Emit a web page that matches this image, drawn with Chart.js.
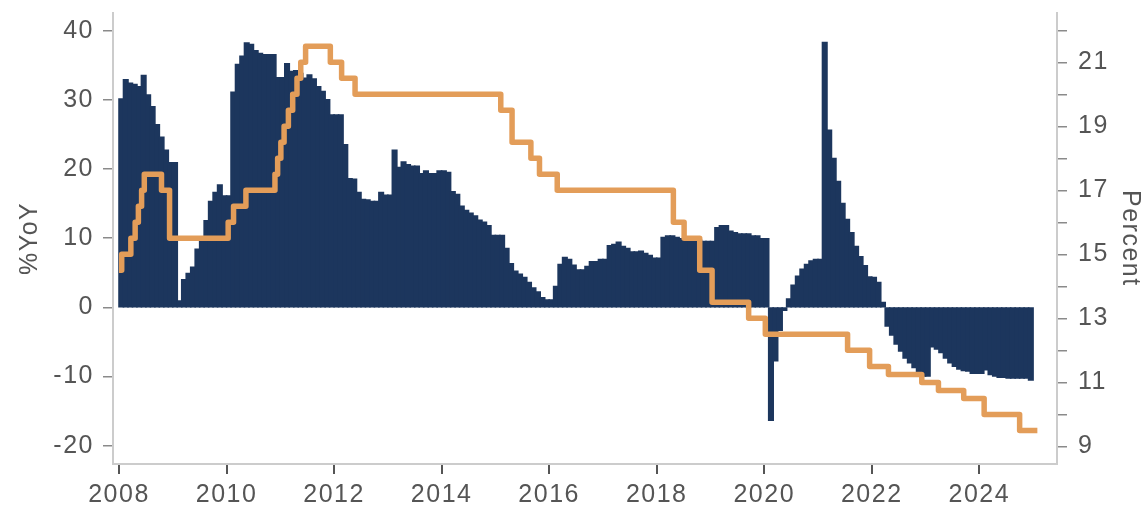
<!DOCTYPE html>
<html>
<head>
<meta charset="utf-8">
<script src="https://cdn.jsdelivr.net/npm/chart.js@4.4.1/dist/chart.umd.min.js"></script>
<style>
  html, body { margin: 0; padding: 0; background: #ffffff; }
  #wrap { width: 1142px; height: 509px; }
</style>
</head>
<body>
<div id="wrap"><canvas id="grafico"></canvas></div>
<script>
// Crecimiento interanual mensual (%YoY), desde enero 2008 hasta diciembre 2024
const primerAnio = 2008;
const crecimientoYoY = [
  30.1, 32.9, 32.4, 32.2, 31.9, 33.5, 30.7, 29.0, 26.4, 24.6, 22.7, 20.9,   // 2008
  20.9, 0.9, 4.0, 4.9, 5.8, 8.4, 9.6, 12.5, 15.3, 16.6, 17.7, 16.1,         // 2009
  16.1, 31.1, 35.1, 36.3, 38.2, 38.0, 37.1, 36.7, 36.5, 36.5, 36.5, 33.2,   // 2010
  33.2, 35.2, 34.1, 34.2, 33.8, 33.1, 33.6, 33.0, 31.9, 31.2, 30.0, 27.8,   // 2011
  27.8, 27.8, 23.5, 18.6, 18.5, 16.6, 15.6, 15.5, 15.3, 15.3, 16.6, 16.2,   // 2012
  16.2, 22.7, 20.2, 21.0, 20.6, 20.4, 20.4, 19.3, 19.7, 19.3, 19.3, 19.7,   // 2013
  19.7, 19.5, 16.7, 16.3, 14.6, 14.0, 13.6, 13.2, 12.6, 12.3, 11.8, 10.4,   // 2014
  10.4, 10.4, 8.5, 6.3, 5.2, 4.8, 4.3, 3.6, 2.8, 2.2, 1.4, 1.05,            // 2015
  1.05, 3.0, 6.2, 7.2, 6.9, 6.1, 5.4, 5.4, 5.9, 6.6, 6.6, 6.9,              // 2016
  6.9, 8.9, 9.1, 9.4, 8.8, 8.5, 8.0, 8.0, 8.1, 7.8, 7.5, 7.1,               // 2017
  7.1, 10.1, 10.3, 10.3, 10.1, 9.9, 9.7, 9.7, 9.7, 9.7, 9.5, 9.5,           // 2018
  9.5, 11.5, 11.8, 11.8, 11.0, 10.8, 10.6, 10.6, 10.6, 10.3, 10.3, 9.9,     // 2019
  9.9, -16.3, -7.7, -3.3, -0.4, 1.2, 3.2, 4.5, 5.5, 6.2, 6.7, 6.9,          // 2020
  6.9, 38.3, 25.6, 21.5, 18.2, 15.0, 12.7, 10.8, 8.8, 7.3, 6.0, 4.4,        // 2021
  4.3, 3.6, 0.7, -2.7, -4.0, -5.3, -6.3, -7.3, -8.0, -8.7, -9.3, -9.9,      // 2022
  -9.9, -5.7, -6.0, -6.5, -7.3, -8.0, -8.5, -8.9, -9.1, -9.2, -9.5, -9.5,   // 2023
  -9.5, -9.0, -9.7, -9.9, -10.1, -10.1, -10.2, -10.2, -10.2, -10.2, -10.2, -10.5 // 2024
];

// Tasa (Percent): fecha de cada cambio (año decimal) y nuevo valor
const fechasTasa = [
  2008.00, 2008.05, 2008.22, 2008.30, 2008.36, 2008.42, 2008.47, 2008.79, 2008.94,
  2010.03, 2010.13, 2010.36, 2010.90, 2010.95, 2011.01, 2011.07, 2011.15, 2011.23,
  2011.31, 2011.38, 2011.47, 2011.93, 2012.14, 2012.39, 2015.10, 2015.31, 2015.66,
  2015.82, 2016.15, 2018.31, 2018.51, 2018.80, 2019.03, 2019.71, 2020.02, 2021.55,
  2021.96, 2022.31, 2022.93, 2023.24, 2023.71, 2024.09, 2024.75, 2025.08
];
const valoresTasa = [
  14.5, 15.0, 15.5, 16.0, 16.5, 17.0, 17.5, 17.0, 15.5,
  16.0, 16.5, 17.0, 17.5, 18.0, 18.5, 19.0, 19.5, 20.0,
  20.5, 21.0, 21.5, 21.0, 20.5, 20.0, 19.5, 18.5, 18.0,
  17.5, 17.0, 16.0, 15.5, 14.5, 13.5, 13.0, 12.5, 12.0,
  11.5, 11.25, 11.0, 10.75, 10.5, 10.0, 9.5, 9.5
];

// Etiquetas de ejes
const aniosEje = [2008, 2010, 2012, 2014, 2016, 2018, 2020, 2022, 2024];
const ticksYoY = [-20, -10, 0, 10, 20, 30, 40];
const ticksTasa = [9, 10, 11, 12, 13, 14, 15, 16, 17, 18, 19, 20, 21, 22];

const colorBarras = '#1c365d';
const colorLinea = '#e39d59';
const colorTexto = '#555555';
const fuente = { family: "'Liberation Sans', Arial, sans-serif", size: 25 };

// un punto por mes, centrado en el mes
const puntosBarras = crecimientoYoY.map(function (v, i) {
  return { x: primerAnio + (i + 0.5) / 12, y: v };
});
const puntosTasa = fechasTasa.map(function (f, i) {
  return { x: f, y: valoresTasa[i] };
});

// espaciado de letras para imitar el texto ancho del original
const espaciado = {
  id: 'espaciado',
  beforeLayout: function (chart) { chart.ctx.letterSpacing = '1.5px'; },
  beforeDraw: function (chart) { chart.ctx.letterSpacing = '1.5px'; }
};

function fijarTicks(valores) {
  return function (scale) {
    scale.ticks = valores.map(function (v) { return { value: v }; });
  };
}

const ctx = document.getElementById('grafico').getContext('2d');
const grafico = new Chart(ctx, {
  type: 'line',
  data: {
    datasets: [
      {
        type: 'line',
        data: puntosTasa,
        yAxisID: 'y2',
        borderColor: colorLinea,
        borderWidth: 5.5,
        stepped: 'before',
        pointRadius: 0,
        borderJoinStyle: 'round',
        fill: false,
        order: 0
      },
      {
        type: 'bar',
        data: puntosBarras,
        yAxisID: 'y',
        backgroundColor: colorBarras,
        borderWidth: 0,
        inflateAmount: 0.8,
        barPercentage: 1.0,
        categoryPercentage: 1.0,
        order: 1
      }
    ]
  },
  options: {
    responsive: true,
    maintainAspectRatio: false,
    animation: false,
    layout: { padding: { top: 12.7, left: 0, right: 0, bottom: 0 } },
    plugins: {
      legend: { display: false },
      tooltip: { enabled: false }
    },
    scales: {
      x: {
        type: 'linear',
        min: 2007.888,
        max: 2025.445,
        offset: false,
        afterBuildTicks: fijarTicks(aniosEje),
        afterFit: function (scale) {
          scale.height = 45;
          scale.paddingLeft = 0;
          scale.paddingRight = 0;
        },
        grid: { offset: false, drawOnChartArea: false, drawTicks: true, tickLength: 10, color: '#555555', lineWidth: 2 },
        border: { display: true, color: '#cccccc', width: 2 },
        ticks: {
          color: colorTexto,
          font: fuente,
          padding: 6,
          maxRotation: 0,
          autoSkip: false,
          callback: function (v) { return String(v); }
        }
      },
      y: {
        type: 'linear',
        position: 'left',
        min: -22.64,
        max: 42.6,
        afterBuildTicks: fijarTicks(ticksYoY),
        afterFit: function (scale) {
          scale.width = 113;
          scale.paddingTop = 0;
          scale.paddingBottom = 0;
        },
        grid: { drawOnChartArea: false, drawTicks: true, tickLength: 10, color: '#8a8a8a', lineWidth: 1.5 },
        border: { display: true, color: '#cccccc', width: 2 },
        ticks: { color: colorTexto, font: fuente, padding: 9 },
        title: {
          display: true,
          text: '%YoY',
          color: colorTexto,
          font: { family: fuente.family, size: 25, lineHeight: 1 },
          padding: { top: 18, bottom: 0 }
        }
      },
      y2: {
        type: 'linear',
        position: 'right',
        min: 8.45,
        max: 22.55,
        afterBuildTicks: fijarTicks(ticksTasa),
        afterFit: function (scale) {
          scale.width = 85;
          scale.paddingTop = 0;
          scale.paddingBottom = 0;
        },
        grid: { drawOnChartArea: false, drawTicks: true, tickLength: 10, color: '#8a8a8a', lineWidth: 1.5 },
        border: { display: true, color: '#cccccc', width: 2 },
        ticks: {
          color: colorTexto,
          font: fuente,
          padding: 11,
          callback: function (v) { return (v % 2 === 1) ? String(v) : ''; }
        },
        title: {
          display: true,
          text: 'Percent',
          color: colorTexto,
          font: { family: fuente.family, size: 25, lineHeight: 1 },
          padding: { top: 0, bottom: 0 }
        }
      }
    }
  },
  plugins: [espaciado]
});
</script>
</body>
</html>
